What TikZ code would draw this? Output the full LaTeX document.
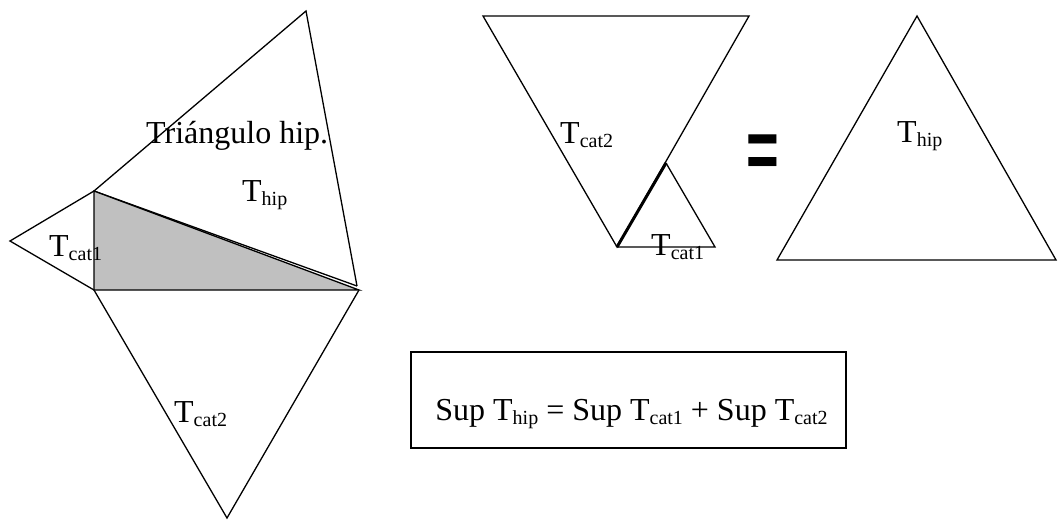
\documentclass[tikz,border=0pt]{standalone}
\usepackage{fontspec}
\setmainfont{Liberation Serif}
\newfontfamily\eqfont{Liberation Sans}
\newcommand\Tsb[1]{T\raisebox{-4pt}{\fontsize{20}{20}\selectfont #1}}
\begin{document}
\begin{tikzpicture}[x=1pt,y=-1pt,
  tri/.style={draw=black,line width=1.3pt,line join=miter},
  lbl/.style={anchor=base west,inner sep=0pt,font=\fontsize{32}{36}\selectfont}]
\useasboundingbox (0,0) rectangle (1058,520);
% left figure
\coordinate (A) at (94,191);
\coordinate (B) at (94,290);
\coordinate (C) at (359,290);
\coordinate (H) at (306,11);
\coordinate (Hr) at (357,286);
\coordinate (L) at (10,241);
\coordinate (D) at (227,518);
\draw[tri] (A) -- (H) -- (Hr);
\draw[tri] (A) -- (L) -- (B);
\draw[tri] (B) -- (D) -- (C);
\draw[tri] (A) -- (Hr);
\filldraw[tri,fill={rgb,255:red,192;green,192;blue,192}] (A) -- (B) -- (C) -- cycle;
\node[lbl] (tri) at (146,143) {Triángulo hip.};
\node[lbl] (thip1) at (242,201) {\Tsb{hip}};
\node[lbl] (tcat1a) at (49,256) {\Tsb{cat1}};
\node[lbl] (tcat2a) at (174,422) {\Tsb{cat2}};
% middle figure
\coordinate (P) at (483,16);
\coordinate (Q) at (749,16);
\coordinate (R) at (617,247);
\coordinate (S) at (666,163);
\coordinate (U) at (715,247);
\draw[tri] (P) -- (Q) -- (R) -- cycle;
\draw[tri] (S) -- (U) -- (R);
\draw[line width=3pt] (R) -- (S);
\node[lbl] (tcat2b) at (560,143) {\Tsb{cat2}};
\node[lbl] (tcat1b) at (651,255) {\Tsb{cat1}};
% equals
\node[inner sep=0pt,anchor=base] (eq) at (763,178) {\scalebox{1}[1.5]{\eqfont\bfseries\fontsize{56}{56}\selectfont =}};
% right triangle
\coordinate (X) at (777,260);
\coordinate (Y) at (917,16);
\coordinate (Z) at (1056,260);
\draw[tri] (X) -- (Y) -- (Z) -- cycle;
\node[lbl] (thip2) at (897,142) {\Tsb{hip}};
% box
\node[draw=black,line width=1.6pt,minimum width=435pt,minimum height=96pt,inner sep=0pt] (box) at (628.5,400) {};
\node[anchor=base,inner sep=0pt,font=\fontsize{32}{36}\selectfont] (eqtext) at (631.5,420) {Sup \Tsb{hip} = Sup \Tsb{cat1} + Sup \Tsb{cat2}};
\end{tikzpicture}
\end{document}
